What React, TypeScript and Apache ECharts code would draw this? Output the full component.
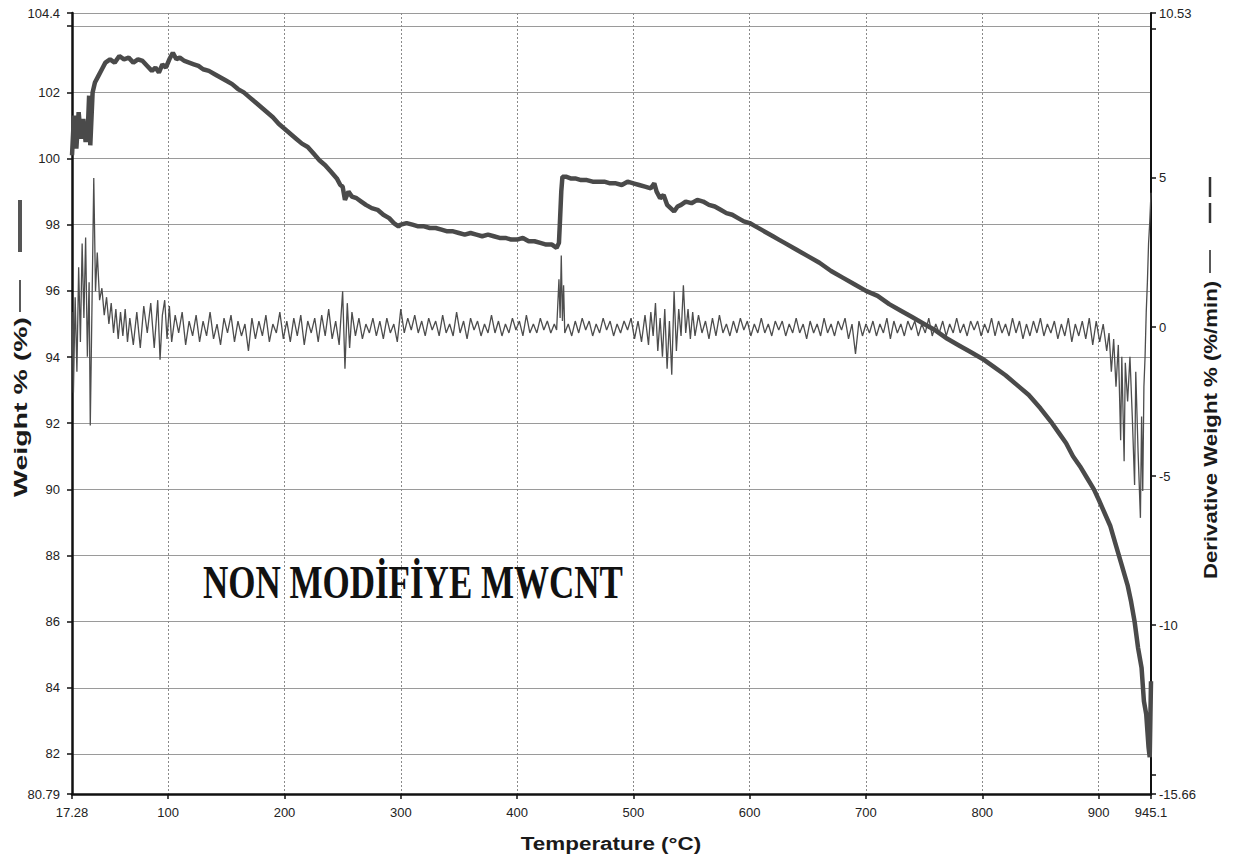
import React, { useEffect, useRef } from "react";
import * as echarts from "echarts";

const xTicks = [17.28, 100, 200, 300, 400, 500, 600, 700, 800, 900, 945.1];
const leftTicks = [80.79, 82, 84, 86, 88, 90, 92, 94, 96, 98, 100, 102, 104, 104.4];
const rightTicks = [-15.66, -15, -10, -5, 0, 5, 10, 10.53];

// Weight % (TGA) : [temperature, weight]
const weightData: [number, number][] = [
  [17.3, 100.1], [19, 101.3], [21, 100.3], [23, 101.4], [25, 100.6], [27, 101.2], [29, 100.5], [31, 101.0],
  [32, 101.9], [33, 100.4], [35, 102.0], [37, 102.3], [40, 102.5], [43, 102.7], [46, 102.9], [50, 103.0],
  [54, 102.9], [58, 103.1], [62, 103.0], [66, 103.05], [70, 102.9], [74, 103.0], [78, 102.95], [82, 102.8],
  [86, 102.65], [89, 102.75], [92, 102.6], [95, 102.85], [98, 102.75], [101, 103.0], [104, 103.2], [107, 103.0],
  [110, 103.05], [114, 102.95], [118, 102.9], [122, 102.85], [126, 102.8], [130, 102.7], [135, 102.65], [140, 102.55],
  [145, 102.45], [150, 102.35], [155, 102.25], [160, 102.1], [165, 102.0], [170, 101.85], [175, 101.7], [180, 101.55],
  [185, 101.4], [190, 101.25], [195, 101.05], [200, 100.9], [205, 100.75], [210, 100.6], [215, 100.45], [220, 100.35],
  [225, 100.15], [230, 99.95], [235, 99.8], [240, 99.6], [245, 99.4], [248, 99.2], [250, 99.15], [252, 98.75],
  [255, 99.0], [258, 98.85], [262, 98.8], [266, 98.7], [270, 98.6], [275, 98.5], [280, 98.45], [285, 98.3],
  [290, 98.2], [294, 98.05], [298, 97.95], [300, 98.0], [305, 98.05], [310, 98.0], [315, 97.95], [320, 97.95],
  [325, 97.9], [330, 97.9], [335, 97.85], [340, 97.8], [345, 97.8], [350, 97.75], [355, 97.7], [360, 97.75],
  [365, 97.7], [370, 97.65], [375, 97.7], [380, 97.65], [385, 97.6], [390, 97.6], [395, 97.55], [400, 97.55],
  [405, 97.6], [410, 97.5], [415, 97.5], [420, 97.45], [425, 97.4], [430, 97.4], [434, 97.3], [436, 97.45],
  [437, 98.2], [438, 99.0], [439, 99.45], [442, 99.45], [446, 99.4], [450, 99.4], [455, 99.35], [460, 99.35],
  [465, 99.3], [470, 99.3], [475, 99.3], [480, 99.25], [485, 99.25], [490, 99.2], [495, 99.3], [500, 99.25],
  [505, 99.2], [510, 99.15], [515, 99.1], [518, 99.25], [520, 99.0], [523, 98.8], [526, 98.9], [529, 98.6],
  [532, 98.5], [535, 98.4], [538, 98.55], [541, 98.6], [545, 98.7], [550, 98.65], [555, 98.75], [560, 98.7],
  [565, 98.6], [570, 98.55], [575, 98.45], [580, 98.35], [585, 98.3], [590, 98.2], [595, 98.1], [600, 98.05],
  [605, 97.95], [610, 97.85], [615, 97.75], [620, 97.65], [625, 97.55], [630, 97.45], [640, 97.25], [650, 97.05],
  [660, 96.85], [670, 96.6], [680, 96.4], [690, 96.2], [700, 96.0], [710, 95.85], [720, 95.6], [730, 95.4],
  [740, 95.2], [750, 95.0], [760, 94.8], [770, 94.55], [780, 94.35], [790, 94.15], [800, 93.95], [810, 93.7],
  [820, 93.45], [830, 93.15], [840, 92.85], [850, 92.45], [860, 92.0], [866, 91.7], [872, 91.4], [878, 91.0],
  [884, 90.7], [890, 90.35], [896, 90.0], [900, 89.7], [905, 89.3], [910, 88.9], [915, 88.3], [920, 87.7],
  [925, 87.1], [928, 86.6], [931, 86.0], [934, 85.2], [937, 84.6], [939, 83.6], [941, 83.2], [943, 82.2],
  [944, 81.9], [945.1, 84.2],
];

// Derivative weight % (%/min) : [temperature, derivative]
const derivData: [number, number][] = [
  [17.3, 0.5], [18.5, -2.2], [20, 1.0], [21.5, -1.5], [23, 2.0], [24.5, -0.5], [26, 2.8], [27.5, 0.3],
  [29, 3.0], [30.5, -1.0], [32, 1.5], [33, -3.3], [34.5, 0.8], [36, 5.0], [37.5, 1.2], [39, 2.5],
  [41, 0.9], [43, 1.3], [45, 0.4], [47, 1.0], [49, 0.1], [51, 0.8], [53, -0.2], [55, 0.6],
  [57, -0.4], [59, 0.5], [61, -0.3], [63, 0.6], [65, -0.5], [67, 0.3], [70, -0.6], [73, 0.5],
  [76, -0.7], [79, 0.7], [82, -0.2], [85, 0.8], [88, -0.7], [91, 0.9], [93, -1.1], [95, 0.4],
  [97, 0.9], [99, -0.4], [101, 0.7], [103, -0.5], [106, 0.4], [109, -0.2], [112, 0.5], [115, -0.6],
  [118, 0.2], [121, -0.3], [124, 0.4], [127, -0.5], [130, 0.2], [133, -0.3], [136, 0.5], [139, -0.4],
  [142, 0.1], [145, -0.6], [148, 0.3], [151, -0.2], [154, 0.4], [157, -0.5], [160, 0.2], [163, -0.3],
  [166, 0.1], [169, -0.8], [172, 0.3], [175, -0.4], [178, 0.2], [181, -0.3], [184, 0.4], [187, -0.5],
  [190, 0.1], [193, -0.2], [196, 0.5], [199, -0.4], [202, 0.2], [205, -0.5], [208, 0.3], [211, -0.3],
  [214, 0.4], [217, -0.6], [220, 0.2], [223, -0.2], [226, 0.3], [229, -0.5], [232, 0.4], [235, -0.3],
  [238, 0.6], [241, -0.4], [244, 0.2], [247, -0.6], [250, 1.2], [252, -1.4], [254, 0.8], [256, -0.7],
  [258, 0.5], [261, -0.3], [264, 0.3], [267, -0.4], [270, 0.1], [273, -0.2], [276, 0.3], [279, -0.3],
  [282, 0.2], [285, -0.4], [288, 0.3], [291, -0.2], [294, 0.1], [297, -0.5], [300, 0.6], [303, -0.2],
  [306, 0.3], [309, -0.1], [312, 0.4], [315, -0.2], [318, 0.2], [321, -0.3], [324, 0.3], [327, -0.1],
  [330, 0.2], [333, -0.3], [336, 0.4], [339, -0.2], [342, 0.1], [345, -0.3], [348, 0.5], [351, -0.2],
  [354, 0.2], [357, -0.4], [360, 0.3], [363, -0.1], [366, 0.2], [369, -0.3], [372, 0.1], [375, -0.2],
  [378, 0.4], [381, -0.2], [384, 0.2], [387, -0.3], [390, 0.1], [393, -0.2], [396, 0.3], [399, -0.1],
  [402, 0.2], [405, -0.3], [408, 0.4], [411, -0.2], [414, 0.1], [417, -0.2], [420, 0.3], [423, -0.1],
  [426, 0.2], [429, -0.2], [432, 0.1], [434, -0.1], [436, 1.6], [437, 0.3], [438, 2.4], [439, 0.2],
  [440, 1.4], [441, -0.2], [444, 0.1], [447, -0.3], [450, 0.2], [453, -0.2], [456, 0.3], [459, -0.1],
  [462, 0.2], [465, -0.3], [468, 0.1], [471, -0.2], [474, 0.3], [477, -0.1], [480, 0.2], [483, -0.3],
  [486, 0.1], [489, -0.2], [492, 0.2], [495, -0.1], [498, 0.3], [501, -0.4], [504, 0.2], [507, -0.5],
  [510, 0.4], [513, -0.6], [515, 0.5], [517, -0.3], [519, 0.8], [521, -0.8], [523, 0.3], [525, -1.0],
  [527, 0.6], [529, -1.4], [531, 0.2], [533, -1.6], [535, 1.2], [537, -0.8], [539, 0.6], [541, -0.3],
  [543, 1.4], [545, -0.2], [547, 0.6], [549, -0.4], [551, 0.5], [553, -0.3], [556, 0.4], [559, -0.2],
  [562, 0.2], [565, -0.4], [568, 0.3], [571, -0.3], [574, 0.4], [577, -0.2], [580, 0.1], [583, -0.3],
  [586, 0.2], [589, -0.2], [592, 0.3], [595, -0.1], [598, 0.2], [601, -0.3], [604, 0.1], [607, -0.2],
  [610, 0.3], [613, -0.2], [616, 0.1], [619, -0.3], [622, 0.2], [625, -0.1], [628, 0.2], [631, -0.3],
  [634, 0.1], [637, -0.2], [640, 0.3], [643, -0.2], [646, 0.1], [649, -0.4], [652, 0.2], [655, -0.2],
  [658, 0.1], [661, -0.3], [664, 0.3], [667, -0.2], [670, 0.1], [673, -0.3], [676, 0.2], [679, -0.1],
  [682, 0.3], [685, -0.4], [688, 0.1], [691, -0.9], [694, 0.2], [697, -0.3], [700, 0.1], [703, -0.2],
  [706, 0.2], [709, -0.3], [712, 0.1], [715, -0.2], [718, 0.3], [721, -0.4], [724, 0.2], [727, -0.2],
  [730, 0.1], [733, -0.3], [736, 0.2], [739, -0.1], [742, 0.2], [745, -0.3], [748, 0.1], [751, -0.2],
  [754, 0.3], [757, -0.3], [760, 0.1], [763, -0.2], [766, 0.2], [769, -0.3], [772, 0.1], [775, -0.2],
  [778, 0.3], [781, -0.2], [784, 0.1], [787, -0.3], [790, 0.2], [793, -0.1], [796, 0.2], [799, -0.3],
  [802, 0.1], [805, -0.2], [808, 0.3], [811, -0.3], [814, 0.2], [817, -0.2], [820, 0.1], [823, -0.3],
  [826, 0.3], [829, -0.2], [832, 0.2], [835, -0.4], [838, 0.1], [841, -0.3], [844, 0.2], [847, -0.2],
  [850, 0.3], [853, -0.3], [856, 0.1], [859, -0.2], [862, 0.2], [865, -0.4], [868, 0.1], [871, -0.3],
  [874, 0.3], [877, -0.5], [880, 0.1], [883, -0.3], [886, 0.2], [889, -0.4], [892, 0.3], [895, -0.6],
  [898, 0.2], [901, -0.5], [904, 0.1], [907, -0.8], [909, -0.2], [911, -1.5], [913, -0.4], [915, -2.0],
  [917, -0.6], [919, -3.8], [920, -1.0], [922, -4.5], [923, -1.2], [925, -2.5], [927, -1.0], [929, -3.0],
  [931, -5.3], [932, -1.5], [934, -4.2], [936, -6.4], [937, -3.0], [938, -5.5], [939, -2.0], [940, -1.0],
  [941, 0.5], [942, 1.5], [943, 2.8], [944, 3.5], [945.1, 4.5],
];

const FONT = "'Liberation Sans', Arial, sans-serif";

export default function App() {
  const ref = useRef<HTMLDivElement>(null);
  useEffect(() => {
    if (!ref.current) return;
    const chart = echarts.init(ref.current, undefined, { renderer: "svg" });
    const fmt = (v: number) => String(v);
    const titleStyle = {
      fontFamily: FONT,
      fontWeight: "bold",
      fontSize: 19,
      fill: "#1a1a1a",
      align: "center",
      verticalAlign: "middle",
    };
    chart.setOption({
      animation: false,
      backgroundColor: "#ffffff",
      grid: { left: 72, right: 82, top: 13, bottom: 67, containLabel: false },
      xAxis: {
        type: "value",
        min: 17.28,
        max: 945.1,
        axisLine: { show: true, onZero: false, lineStyle: { color: "#111", width: 2.5 } },
        axisTick: { show: true, length: 5, customValues: xTicks, lineStyle: { color: "#111", width: 1.5 } },
        axisLabel: {
          customValues: xTicks,
          formatter: fmt,
          color: "#222",
          fontFamily: FONT,
          fontSize: 13,
          margin: 12,
        },
        splitLine: { show: true, lineStyle: { color: "#8a8a8a", width: 1, type: [2, 2] } },
      },
      yAxis: [
        {
          type: "value",
          min: 80.79,
          max: 104.4,
          position: "left",
          axisLine: { show: true, onZero: false, lineStyle: { color: "#111", width: 2.5 } },
          axisTick: { show: true, length: 5, customValues: leftTicks, lineStyle: { color: "#111", width: 1.5 } },
          axisLabel: {
            customValues: leftTicks,
            formatter: (v: number) => (v === 104 ? "" : String(v)),
            color: "#222",
            fontFamily: FONT,
            fontSize: 13,
            margin: 12,
          },
          splitLine: { show: true, lineStyle: { color: "#9a9a9a", width: 1 } },
        },
        {
          type: "value",
          min: -15.66,
          max: 10.53,
          position: "right",
          axisLine: { show: true, onZero: false, lineStyle: { color: "#111", width: 2 } },
          axisTick: { show: true, length: 5, customValues: rightTicks, lineStyle: { color: "#111", width: 1.5 } },
          axisLabel: {
            customValues: rightTicks,
            formatter: (v: number) => (v === -15 || v === 10 ? "" : String(v)),
            color: "#222",
            fontFamily: FONT,
            fontSize: 13,
            margin: 8,
          },
          splitLine: { show: false },
        },
      ],
      series: [
        {
          name: "Weight %",
          type: "line",
          yAxisIndex: 0,
          data: weightData,
          showSymbol: false,
          lineStyle: { color: "#4a4a4a", width: 4.5 },
          z: 3,
        },
        {
          name: "Derivative Weight %",
          type: "line",
          yAxisIndex: 1,
          data: derivData,
          showSymbol: false,
          lineStyle: { color: "#4d4d4d", width: 1.3 },
          z: 2,
        },
      ],
      graphic: [
        {
          type: "text",
          x: 20,
          y: 407,
          rotation: Math.PI / 2,
          scaleX: 1.5,
          style: { text: "Weight % (%)", ...titleStyle },
        },
        { type: "line", shape: { x1: 20, y1: 280, x2: 20, y2: 312 }, style: { stroke: "#222", lineWidth: 1.5 } },
        { type: "rect", shape: { x: 18, y: 200, width: 4, height: 52 }, style: { fill: "#555" } },
        {
          type: "text",
          x: 1210,
          y: 430,
          rotation: Math.PI / 2,
          scaleX: 1.17,
          style: { text: "Derivative Weight % (%/min)", ...titleStyle },
        },
        { type: "line", shape: { x1: 1210, y1: 250, x2: 1210, y2: 273 }, style: { stroke: "#222", lineWidth: 1.5 } },
        { type: "line", shape: { x1: 1210, y1: 177, x2: 1210, y2: 197 }, style: { stroke: "#333", lineWidth: 2.5 } },
        { type: "line", shape: { x1: 1210, y1: 203, x2: 1210, y2: 223 }, style: { stroke: "#333", lineWidth: 2.5 } },
        {
          type: "text",
          x: 611,
          y: 843,
          scaleX: 1.18,
          style: { text: "Temperature (°C)", ...titleStyle },
        },
        {
          type: "text",
          x: 203,
          y: 583,
          z: 10,
          scaleY: 1.3,
          style: {
            text: "NON MODİFİYE MWCNT",
            fontFamily: "'Liberation Serif', 'DejaVu Serif', serif",
            fontWeight: "bold",
            fontSize: 35,
            fill: "#111",
            align: "left",
            verticalAlign: "middle",
          },
        },
      ],
    });
    return () => chart.dispose();
  }, []);
  return (
    <div
      ref={ref}
      style={{ position: "fixed", left: 0, top: 0, width: 1233, height: 861, background: "#fff" }}
    />
  );
}
